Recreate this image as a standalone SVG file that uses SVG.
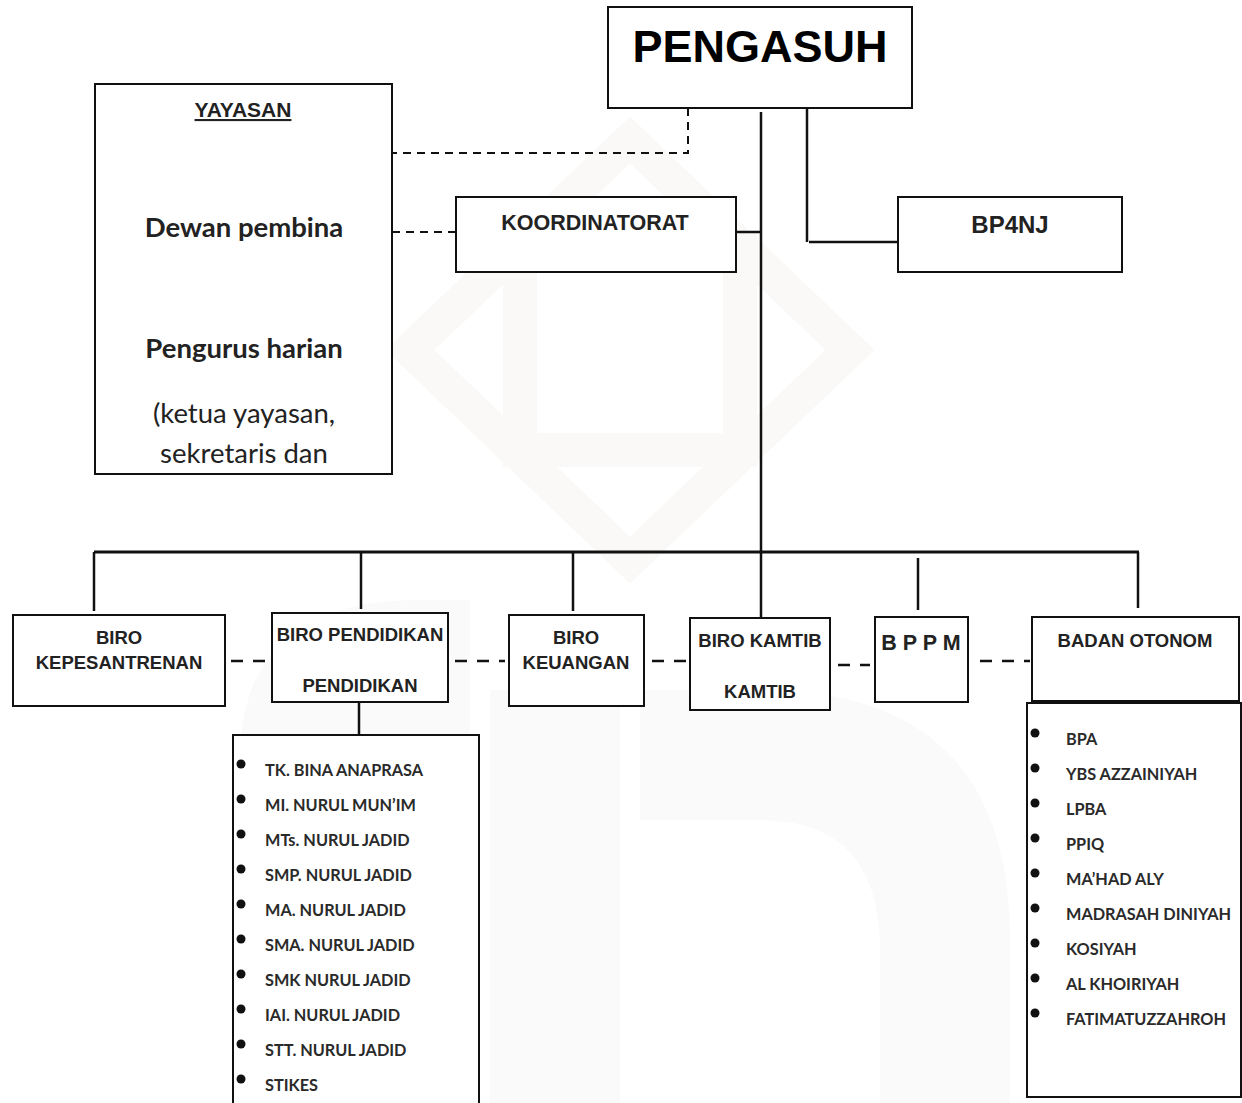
<svg xmlns="http://www.w3.org/2000/svg" width="1242" height="1103" viewBox="0 0 1242 1103">
<style>
.box{fill:#fff;stroke:#111;stroke-width:2}
.ln{stroke:#111;stroke-width:2.5;fill:none}
.dsh{stroke:#111;stroke-width:2;fill:none;stroke-dasharray:8 6}
.dsh2{stroke:#111;stroke-width:2.5;fill:none;stroke-dasharray:12 10}
.ar{font-family:"Liberation Sans",Arial,sans-serif;font-weight:bold;fill:#222;text-anchor:middle}
.cb{font-family:Lato,"Open Sans",sans-serif;fill:#222}
.li{font-family:Lato,"Open Sans",sans-serif;font-weight:bold;font-size:16.3px;fill:#2a2a2a}
.dot{fill:#111}
.wm{fill:none;stroke:#faf9f7;stroke-width:34}
.wmf{fill:#fafafa}
</style>
<rect width="1242" height="1103" fill="#fff"/>
<g id="watermark">
<path class="wm" d="M630 140 L850 350 L630 560 L410 350 Z"/>
<rect class="wm" x="520" y="250" width="220" height="200"/>
<path class="wmf" d="M240 1103 V760 Q240 600 420 600 H470 V1103 Z"/>
<rect class="wmf" x="490" y="690" width="130" height="413"/>
<path class="wmf" d="M640 690 H760 Q1010 690 1010 940 V1103 H880 V950 Q880 820 760 820 H640 Z"/>
</g>
<g id="connectors">
<path class="dsh" d="M688 108 V153 H392"/>
<path class="dsh" d="M392 232 H456"/>
<path class="ln" d="M727 232 H761"/>
<path class="ln" d="M761 112 V618"/>
<path class="ln" d="M807 108 V242"/>
<path class="ln" d="M809 242 H898"/>
<path class="ln" d="M94 552 H1139" style="stroke-width:3"/>
<path class="ln" d="M94 552 V611"/>
<path class="ln" d="M361 552 V609"/>
<path class="ln" d="M573 552 V611"/>
<path class="ln" d="M918 558 V610"/>
<path class="ln" d="M1138 552 V608"/>
<path class="ln" d="M359 702 V735"/>
<path class="dsh2" d="M231 661 H266"/>
<path class="dsh2" d="M455 661 H505"/>
<path class="dsh2" d="M652 661 H686"/>
<path class="dsh2" d="M838 665 H870"/>
<path class="dsh2" d="M980 661 H1030"/>
</g>
<g id="pengasuh">
<rect class="box" x="608" y="7" width="304" height="101"/>
<text class="ar" x="760" y="62" font-size="45" style="fill:#000">PENGASUH</text>
</g>
<g id="yayasan">
<rect class="box" x="95" y="84" width="297" height="390"/>
<text class="ar" x="243" y="117" font-size="21" text-decoration="underline">YAYASAN</text>
<text class="cb" x="244" y="237" font-size="27.5" font-weight="bold" text-anchor="middle">Dewan pembina</text>
<text class="cb" x="244" y="358" font-size="27.5" font-weight="bold" text-anchor="middle">Pengurus harian</text>
<text class="cb" x="244" y="423" font-size="27.5" text-anchor="middle">(ketua yayasan,</text>
<text class="cb" x="244" y="463" font-size="27.5" text-anchor="middle">sekretaris dan</text>
</g>
<g id="koordinatorat">
<rect class="box" x="456" y="197" width="280" height="75"/>
<text class="ar" x="595" y="230" font-size="21.5">KOORDINATORAT</text>
</g>
<g id="bp4nj">
<rect class="box" x="898" y="197" width="224" height="75"/>
<text class="ar" x="1010" y="233" font-size="24">BP4NJ</text>
</g>
<g id="biro-kepesantrenan">
<rect class="box" x="13" y="615" width="212" height="91"/>
<text class="ar" x="119" y="644" font-size="18.5">BIRO</text>
<text class="ar" x="119" y="669" font-size="18.5">KEPESANTRENAN</text>
</g>
<g id="biro-pendidikan">
<rect class="box" x="272" y="613" width="176" height="89"/>
<text class="ar" x="360" y="641" font-size="18.5">BIRO PENDIDIKAN</text>
<text class="ar" x="360" y="692" font-size="18.5">PENDIDIKAN</text>
</g>
<g id="biro-keuangan">
<rect class="box" x="509" y="615" width="135" height="91"/>
<text class="ar" x="576" y="644" font-size="18.5">BIRO</text>
<text class="ar" x="576" y="669" font-size="18.5">KEUANGAN</text>
</g>
<g id="biro-kamtib">
<rect class="box" x="690" y="618" width="140" height="92"/>
<text class="ar" x="760" y="647" font-size="18.5">BIRO KAMTIB</text>
<text class="ar" x="760" y="698" font-size="18.5">KAMTIB</text>
</g>
<g id="bppm">
<rect class="box" x="875" y="617" width="93" height="85"/>
<text class="ar" x="921" y="650" font-size="21.5">B P P M</text>
</g>
<g id="badan-otonom">
<rect class="box" x="1032" y="617" width="207" height="84"/>
<text class="ar" x="1135" y="647" font-size="18.5">BADAN OTONOM</text>
</g>
<g id="list-pendidikan">
<rect class="box" x="233" y="735" width="246" height="380"/>
<g class="dot">
<circle cx="241" cy="764" r="4.5"/><circle cx="241" cy="799" r="4.5"/><circle cx="241" cy="834" r="4.5"/><circle cx="241" cy="869" r="4.5"/><circle cx="241" cy="904" r="4.5"/><circle cx="241" cy="939" r="4.5"/><circle cx="241" cy="974" r="4.5"/><circle cx="241" cy="1009" r="4.5"/><circle cx="241" cy="1044" r="4.5"/><circle cx="241" cy="1079" r="4.5"/>
</g>
<text class="li" x="265" y="776">TK. BINA ANAPRASA</text>
<text class="li" x="265" y="811">MI. NURUL MUN’IM</text>
<text class="li" x="265" y="846">MTs. NURUL JADID</text>
<text class="li" x="265" y="881">SMP. NURUL JADID</text>
<text class="li" x="265" y="916">MA. NURUL JADID</text>
<text class="li" x="265" y="951">SMA. NURUL JADID</text>
<text class="li" x="265" y="986">SMK NURUL JADID</text>
<text class="li" x="265" y="1021">IAI. NURUL JADID</text>
<text class="li" x="265" y="1056">STT. NURUL JADID</text>
<text class="li" x="265" y="1091">STIKES</text>
</g>
<g id="list-otonom">
<rect class="box" x="1027" y="703" width="214" height="394"/>
<g class="dot">
<circle cx="1035" cy="733" r="4.5"/><circle cx="1035" cy="768" r="4.5"/><circle cx="1035" cy="803" r="4.5"/><circle cx="1035" cy="838" r="4.5"/><circle cx="1035" cy="873" r="4.5"/><circle cx="1035" cy="908" r="4.5"/><circle cx="1035" cy="943" r="4.5"/><circle cx="1035" cy="978" r="4.5"/><circle cx="1035" cy="1013" r="4.5"/>
</g>
<text class="li" x="1066" y="745">BPA</text>
<text class="li" x="1066" y="780">YBS AZZAINIYAH</text>
<text class="li" x="1066" y="815">LPBA</text>
<text class="li" x="1066" y="850">PPIQ</text>
<text class="li" x="1066" y="885">MA’HAD ALY</text>
<text class="li" x="1066" y="920">MADRASAH DINIYAH</text>
<text class="li" x="1066" y="955">KOSIYAH</text>
<text class="li" x="1066" y="990">AL KHOIRIYAH</text>
<text class="li" x="1066" y="1025">FATIMATUZZAHROH</text>
</g>
</svg>
